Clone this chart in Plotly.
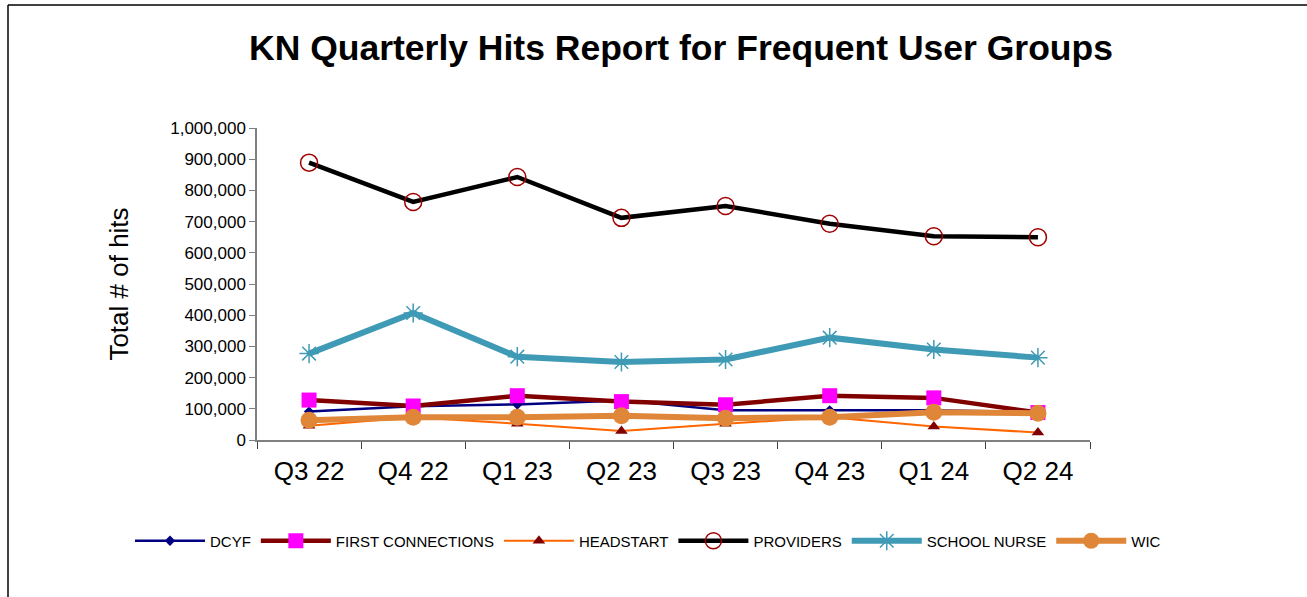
import plotly.graph_objects as go

quarters = ["Q3 22", "Q4 22", "Q1 23", "Q2 23", "Q3 23", "Q4 23", "Q1 24", "Q2 24"]
dcyf = [91000, 108000, 114000, 127000, 95000, 95000, 95000, 89000]
first_connections = [128000, 109000, 142000, 123000, 113000, 142000, 135000, 88000]
headstart = [46000, 73000, 52000, 29000, 52000, 73000, 43000, 24000]
providers = [889000, 763000, 843000, 712000, 750000, 693000, 653000, 650000]
school_nurse = [277000, 407000, 267000, 250000, 258000, 328000, 290000, 264000]
wic = [63000, 73000, 73000, 78000, 70000, 73000, 89000, 86000]
y_ticks = [0, 100000, 200000, 300000, 400000, 500000, 600000, 700000, 800000, 900000, 1000000]

FONT = "Arial, Liberation Sans, sans-serif"

fig = go.Figure()
fig.add_trace(go.Scatter(x=quarters, y=dcyf, name="DCYF", mode="lines+markers",
                         line=dict(color="#000080", width=2.5),
                         marker=dict(symbol="diamond", size=8, color="#000080")))
fig.add_trace(go.Scatter(x=quarters, y=first_connections, name="FIRST CONNECTIONS", mode="lines+markers",
                         line=dict(color="#800000", width=4.5),
                         marker=dict(symbol="square", size=15, color="#FF00FF")))
fig.add_trace(go.Scatter(x=quarters, y=headstart, name="HEADSTART", mode="lines+markers",
                         line=dict(color="#FF6600", width=2),
                         marker=dict(symbol="triangle-up", size=11, color="#800000")))
fig.add_trace(go.Scatter(x=quarters, y=providers, name="PROVIDERS", mode="lines+markers",
                         line=dict(color="#000000", width=4.5),
                         marker=dict(symbol="circle-open", size=17, color="#A00000",
                                     line=dict(width=1.5, color="#A00000"))))
fig.add_trace(go.Scatter(x=quarters, y=school_nurse, name="SCHOOL NURSE", mode="lines+markers",
                         line=dict(color="#3F9AB5", width=6),
                         marker=dict(symbol="asterisk-open", size=16, color="#3F9AB5",
                                     line=dict(width=1.5, color="#3F9AB5"))))
fig.add_trace(go.Scatter(x=quarters, y=wic, name="WIC", mode="lines+markers",
                         line=dict(color="#DF8638", width=6),
                         marker=dict(symbol="circle", size=17, color="#DF8638")))

L, R, T, B = 257, 1307 - 1090, 128, 597 - 440
pw, ph = 1307 - L - R, 597 - T - B

def px_x(v):
    return (v - L) / pw

def px_y(v):
    return (597 - B - v) / ph

fig.update_layout(
    width=1307, height=597,
    margin=dict(l=L, r=R, t=T, b=B),
    paper_bgcolor="white", plot_bgcolor="white",
    font=dict(family=FONT, color="#000000"),
    title=dict(text="<b>KN Quarterly Hits Report for Frequent User Groups</b>",
               font=dict(size=35.5, family=FONT, color="#000000"),
               x=px_x(681), xref="paper", xanchor="center",
               y=1 - 48 / 597, yref="container", yanchor="middle"),
    showlegend=True,
    legend=dict(orientation="h", x=px_x(130), xanchor="left",
                y=px_y(541), yanchor="middle",
                font=dict(size=15, family=FONT, color="#000000"),
                bgcolor="rgba(0,0,0,0)", itemwidth=70, traceorder="normal"),
    xaxis=dict(type="category", range=[-0.5, 7.5], showgrid=False, zeroline=False,
               showline=True, linecolor="#808080", linewidth=1.5,
               ticks="outside", tickson="boundaries", ticklen=7, tickcolor="#404040",
               tickfont=dict(size=26, family=FONT, color="#000000"),
               ticklabelstandoff=7),
    yaxis=dict(range=[0, 1000000], tickvals=y_ticks, tickformat=",d",
               showgrid=False, zeroline=False,
               showline=True, linecolor="#808080", linewidth=1.5,
               ticks="outside", ticklen=6, tickcolor="#808080",
               tickfont=dict(size=17, family=FONT, color="#000000"),
               title=dict(text="Total # of hits", font=dict(size=26, family=FONT, color="#000000"),
                          standoff=34)),
    shapes=[
        dict(type="line", xref="paper", yref="paper",
             x0=px_x(8), x1=px_x(1400), y0=px_y(5), y1=px_y(5),
             line=dict(color="#000000", width=1.5)),
        dict(type="line", xref="paper", yref="paper",
             x0=px_x(8), x1=px_x(8), y0=px_y(5), y1=px_y(700),
             line=dict(color="#000000", width=1.5)),
    ],
)

fig.write_html("out.html", config={"displayModeBar": False},
               post_script="document.body.style.margin='0';")
